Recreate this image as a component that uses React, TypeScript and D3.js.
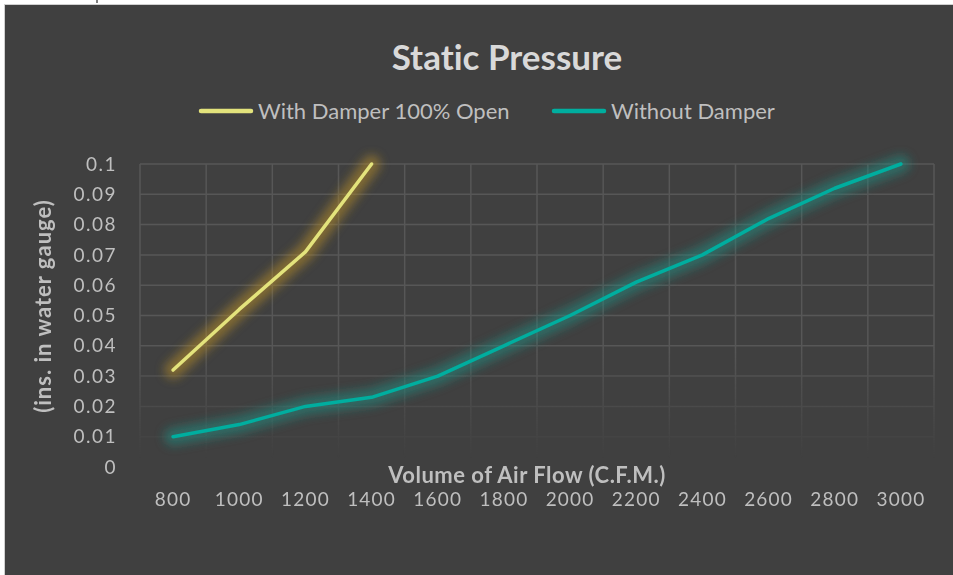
import * as d3 from "d3"

const flows = ["800", "1000", "1200", "1400", "1600", "1800", "2000", "2200", "2400", "2600", "2800", "3000"]
const withDamper = [0.032, 0.052, 0.071, 0.1]
const withoutDamper = [0.01, 0.014, 0.02, 0.023, 0.03, 0.04, 0.05, 0.061, 0.07, 0.082, 0.092, 0.1]
const yTicks = [0, 0.01, 0.02, 0.03, 0.04, 0.05, 0.06, 0.07, 0.08, 0.09, 0.1]

const series = [
  { key: "with", label: "With Damper 100% Open", values: withDamper, color: "#e3e37c", glow: "#b38a2c" },
  { key: "without", label: "Without Damper", values: withoutDamper, color: "#00ae9f", glow: "#1f8a80" },
]

const W = 953
const H = 575
const FONT = "Lato, 'Open Sans', sans-serif"

export default function App() {
  const plot = { left: 140, right: 934, top: 164, bottom: 467 }

  const x = d3.scaleBand<string>().domain(flows).range([plot.left, plot.right]).paddingInner(0).paddingOuter(0)
  const y = d3.scaleLinear().domain([0, 0.1]).range([plot.bottom, plot.top])
  const cx = (c: string) => (x(c) ?? 0) + x.bandwidth() / 2

  const line = d3
    .line<number>()
    .x((_, i) => cx(flows[i]))
    .y((d) => y(d))

  const boundaries = d3.range(flows.length + 1).map((i) => plot.left + i * x.bandwidth())

  return (
    <svg width={W} height={H} style={{ position: "fixed", left: 0, top: 0, display: "block", fontVariantLigatures: "none" }}>
      <defs>
        <linearGradient id="gridFade" gradientUnits="userSpaceOnUse" x1="0" y1={plot.top} x2="0" y2={plot.bottom}>
          <stop offset="0" stopColor="#fff" stopOpacity="1" />
          <stop offset="0.6" stopColor="#fff" stopOpacity="1" />
          <stop offset="0.97" stopColor="#fff" stopOpacity="0" />
        </linearGradient>
        <mask id="gridMask" maskUnits="userSpaceOnUse" x="0" y="0" width={W} height={H}>
          <rect x={0} y={0} width={W} height={H} fill="url(#gridFade)" />
        </mask>
        <filter id="glow" x="-20%" y="-20%" width="140%" height="140%">
          <feGaussianBlur stdDeviation="5" />
        </filter>
      </defs>

      <rect x={0} y={0} width={W} height={H} fill="#ffffff" />
      <line x1={97} x2={97} y1={0} y2={3} stroke="#555" strokeWidth={1.5} />
      <rect x={4.5} y={4.5} width={W} height={H} fill="#404040" stroke="#d0d0d0" strokeWidth={1} />

      <text x={507} y={70} textAnchor="middle" fill="#d9d9d9" fontFamily={FONT} fontWeight="bold" fontSize={35}>
        Static Pressure
      </text>

      {/* legend */}
      {series.map((s, i) => {
        const lx = i === 0 ? 199 : 552
        return (
          <g key={s.key}>
            <line x1={lx + 2} x2={lx + 52} y1={111} y2={111} stroke={s.color} strokeWidth={4.5} strokeLinecap="round" />
            <text x={lx + 59} y={111} dy="0.35em" fill="#bfbfbf" fontFamily={FONT} fontSize={22}>
              {s.label}
            </text>
          </g>
        )
      })}

      {/* grid */}
      <g mask="url(#gridMask)" stroke="#575757" strokeWidth={1.5}>
        {yTicks.map((t) => (
          <line key={t} x1={plot.left} x2={plot.right} y1={y(t)} y2={y(t)} />
        ))}
        {boundaries.map((bx, i) => (
          <line key={i} x1={bx} x2={bx} y1={plot.top} y2={plot.bottom} />
        ))}
      </g>

      {/* y ticks */}
      {yTicks.map((t) => (
        <text
          key={t}
          x={117}
          y={y(t)}
          dy="0.35em"
          textAnchor="end"
          fill="#bfbfbf"
          fontFamily={FONT}
          fontSize={19}
          letterSpacing={1.5}
        >
          {d3.format("~g")(t)}
        </text>
      ))}

      {/* x ticks */}
      {flows.map((c) => (
        <text key={c} x={cx(c)} y={506} textAnchor="middle" fill="#bfbfbf" fontFamily={FONT} fontSize={19} letterSpacing={1.2}>
          {c}
        </text>
      ))}

      <text x={527} y={483} textAnchor="middle" fill="#bfbfbf" fontFamily={FONT} fontWeight="bold" fontSize={22} letterSpacing={0.5}>
        Volume of Air Flow (C.F.M.)
      </text>
      <text
        transform={`translate(43,306) rotate(-90)`}
        textAnchor="middle"
        dy="0.35em"
        fill="#bfbfbf"
        fontFamily={FONT}
        fontWeight="bold"
        fontSize={22}
        letterSpacing={1}
      >
        (ins. in water gauge)
      </text>

      {/* series */}
      {series.map((s) => (
        <g key={s.key}>
          <path
            d={line(s.values) ?? ""}
            fill="none"
            stroke={s.glow}
            strokeOpacity={0.55}
            strokeWidth={18}
            strokeLinecap="round"
            strokeLinejoin="round"
            filter="url(#glow)"
          />
          <path
            d={line(s.values) ?? ""}
            fill="none"
            stroke={s.color}
            strokeWidth={3.5}
            strokeLinecap="round"
            strokeLinejoin="round"
          />
        </g>
      ))}
    </svg>
  )
}
